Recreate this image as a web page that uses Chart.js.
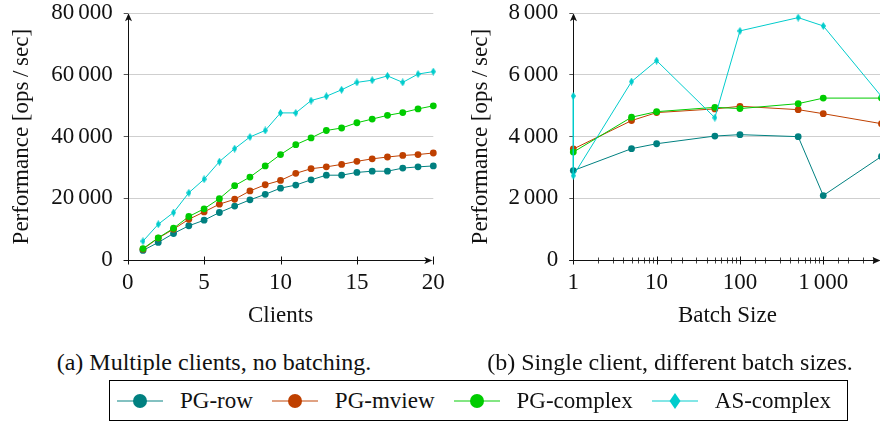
<!DOCTYPE html>
<html>
<head>
<meta charset="utf-8">
<script src="https://cdn.jsdelivr.net/npm/chart.js@4/dist/chart.umd.min.js"></script>
<style>
  html, body { margin: 0; padding: 0; background: #fff; }
  body { width: 880px; height: 423px; overflow: hidden; position: relative; font-family: 'Liberation Serif', serif; color: #111; }
  canvas { position: absolute; top: 0; }
  #clients { left: 0; }
  #batch { left: 440px; }
  .caption { position: absolute; top: 345px; font-size: 24px; line-height: 34px; text-align: center; white-space: nowrap; }
  #capA { left: 14px; width: 400px; }
  #capB { left: 470px; width: 400px; }
  #legend { position: absolute; left: 109px; top: 380px; width: 739px; height: 41px; box-sizing: border-box;
            border: 1px solid #000; display: flex; align-items: center; padding-left: 7px; font-size: 23px; white-space: nowrap; }
  #legend .item { display: flex; align-items: center; margin-right: 19px; flex-shrink: 0; }
  #legend svg { margin-right: 17px; flex-shrink: 0; }
</style>
</head>
<body>
<canvas id="clients" width="460" height="340"></canvas>
<canvas id="batch" width="460" height="340"></canvas>
<div class="caption" id="capA">(a) Multiple clients, no batching.</div>
<div class="caption" id="capB">(b) Single client, different batch sizes.</div>
<div id="legend"></div>

<script>
// ---- data ----
const seriesNames = ['PG-row', 'PG-mview', 'PG-complex', 'AS-complex'];
const seriesColors = ['#008080', '#bf4000', '#00cc00', '#00cccc'];

// (a) clients, no batching
const clients = [1, 2, 3, 4, 5, 6, 7, 8, 9, 10, 11, 12, 13, 14, 15, 16, 17, 18, 19, 20];
const clientsPgRow = [3100, 5700, 8600, 11100, 12900, 15400, 17500, 19500, 21300, 23300, 24300, 26000, 27500, 27500, 28400, 28800, 28800, 29800, 30200, 30500];
const clientsPgMview = [3500, 7100, 10000, 13200, 15600, 18100, 19700, 22400, 24400, 25800, 28100, 29600, 30200, 31000, 32000, 32800, 33400, 33900, 34200, 34700];
const clientsPgComplex = [3700, 7200, 10300, 14100, 16600, 19900, 24100, 26900, 30500, 34200, 37400, 39600, 42000, 42800, 44500, 45700, 46900, 47800, 49000, 50000];
const clientsAsComplex = [6100, 11600, 15400, 21800, 26200, 31900, 36100, 39900, 42000, 47700, 47700, 51700, 53100, 55200, 57600, 58300, 59700, 57600, 60300, 61100];

// (b) single client, batch sizes
const batchSizes = [1, 5, 10, 50, 100, 500, 1000, 5000];
const batchPgRow = [2900, 3610, 3770, 4020, 4065, 4000, 2090, 3360];
const batchPgMview = [3600, 4520, 4780, 4900, 4985, 4875, 4745, 4420];
const batchPgComplex = [3500, 4630, 4810, 4950, 4910, 5070, 5250, 5250];
const batchSizesAs = [1, 1, 5, 10, 50, 100, 500, 1000, 5000];
const batchAsComplex = [5320, 2735, 5785, 6465, 4615, 7430, 7860, 7590, 5300];

const batchTickLabels = [1, 10, 100, 1000];

// ---- helpers ----
const FONT = { family: 'Liberation Serif', size: 23 };
const fmt = v => String(v).replace(/\B(?=(\d{3})+(?!\d))/g, '\u2006');
const pts = (xs, ys) => xs.map((x, i) => ({ x, y: ys[i] }));

function diamond(w, h, color) {
  const c = document.createElement('canvas');
  c.width = w; c.height = h;
  const g = c.getContext('2d');
  g.fillStyle = color;
  g.beginPath();
  g.moveTo(w / 2, 0); g.lineTo(w, h / 2); g.lineTo(w / 2, h); g.lineTo(0, h / 2);
  g.closePath(); g.fill();
  return c;
}

function dataset(i, data) {
  const isAs = i === 3;
  return {
    label: seriesNames[i],
    data,
    borderColor: seriesColors[i],
    backgroundColor: seriesColors[i],
    borderWidth: 1,
    pointStyle: isAs ? diamond(5, 8, seriesColors[i]) : 'circle',
    pointRadius: isAs ? 3 : 3.4,
    pointBorderWidth: 0,
    tension: 0,
    clip: false,
    order: 4 - i
  };
}

// axis lines with arrow heads and ticks crossing the x axis
const axisPlugin = {
  id: 'axisArrows',
  beforeDatasetsDraw(chart) {
    const { ctx, chartArea: a, scales: { x } } = chart;
    const log = x.type === 'logarithmic';
    ctx.save();
    ctx.strokeStyle = '#111';
    ctx.fillStyle = '#111';
    ctx.lineWidth = 1;
    const yb = Math.round(a.bottom) + 0.5;
    const xl = Math.round(a.left) + 0.5;
    x.ticks.forEach(t => {
      const px = Math.round(x.getPixelForValue(t.value)) + 0.5;
      const major = !log || batchTickLabels.includes(t.value);
      const h = major ? 4 : 3;
      ctx.strokeStyle = major ? '#111' : '#444';
      ctx.beginPath(); ctx.moveTo(px, yb - h); ctx.lineTo(px, yb + h); ctx.stroke();
    });
    ctx.strokeStyle = '#111';
    // x axis
    const xr = a.right - 1;
    ctx.beginPath(); ctx.moveTo(a.left - 4, yb); ctx.lineTo(xr - 2, yb); ctx.stroke();
    ctx.beginPath();
    ctx.moveTo(xr, yb); ctx.lineTo(xr - 8, yb - 3.5); ctx.lineTo(xr - 6, yb); ctx.lineTo(xr - 8, yb + 3.5);
    ctx.closePath(); ctx.fill();
    // y axis
    const yt = a.top;
    ctx.beginPath(); ctx.moveTo(xl, a.bottom + 4); ctx.lineTo(xl, yt + 2); ctx.stroke();
    ctx.beginPath();
    ctx.moveTo(xl, yt); ctx.lineTo(xl - 3.5, yt + 8); ctx.lineTo(xl, yt + 6); ctx.lineTo(xl + 3.5, yt + 8);
    ctx.closePath(); ctx.fill();
    ctx.restore();
  }
};

function makeOptions(cfg) {
  return {
    responsive: false,
    animation: false,
    devicePixelRatio: 1,
    layout: { padding: { top: 13.3, right: cfg.padRight, bottom: 0, left: 0 } },
    plugins: { legend: { display: false }, tooltip: { enabled: false } },
    scales: {
      x: cfg.x,
      y: {
        type: 'linear',
        min: 0,
        max: cfg.yMax,
        border: { display: false },
        grid: { color: '#cfcfcf', lineWidth: 1, drawTicks: true, tickLength: 4, tickColor: '#555' },
        ticks: { stepSize: cfg.yStep, color: '#111', font: FONT, padding: 11, callback: v => fmt(v) },
        title: { display: true, text: 'Performance [ops\u2009/\u2009sec]', color: '#111', font: FONT, padding: { top: cfg.yTitlePad } },
        afterFit: s => { s.width = cfg.yWidth; s.paddingTop = 0; s.paddingBottom = 0; }
      }
    }
  };
}

function xAxis(extra) {
  return Object.assign({
    border: { display: false },
    grid: { display: false, drawTicks: false },
    afterFit: s => { s.height = 80; s.paddingLeft = 0; s.paddingRight = 0; }
  }, extra);
}

// ---- chart (a) ----
new Chart(document.getElementById('clients'), {
  type: 'line',
  data: {
    datasets: [
      dataset(0, pts(clients, clientsPgRow)),
      dataset(1, pts(clients, clientsPgMview)),
      dataset(2, pts(clients, clientsPgComplex)),
      dataset(3, pts(clients, clientsAsComplex))
    ]
  },
  options: makeOptions({
    padRight: 26.7,
    yMax: 80000,
    yStep: 20000,
    yWidth: 127.7,
    yTitlePad: 8,
    x: xAxis({
      type: 'linear',
      min: 0,
      max: 20,
      ticks: { stepSize: 5, color: '#111', font: FONT, padding: 9, maxRotation: 0, autoSkip: false },
      title: { display: true, text: 'Clients', color: '#111', font: FONT, padding: { bottom: 10 } }
    })
  }),
  plugins: [axisPlugin]
});

// ---- chart (b) ----
new Chart(document.getElementById('batch'), {
  type: 'line',
  data: {
    datasets: [
      dataset(0, pts(batchSizes, batchPgRow)),
      dataset(1, pts(batchSizes, batchPgMview)),
      dataset(2, pts(batchSizes, batchPgComplex)),
      dataset(3, pts(batchSizesAs, batchAsComplex))
    ]
  },
  options: makeOptions({
    padRight: 18.5,
    yMax: 8000,
    yStep: 2000,
    yWidth: 133.3,
    yTitlePad: 27,
    x: xAxis({
      type: 'logarithmic',
      min: 1,
      max: 5000,
      ticks: {
        color: '#111', font: FONT, padding: 9, maxRotation: 0, autoSkip: false,
        callback: v => batchTickLabels.includes(v) ? fmt(v) : ''
      },
      title: { display: true, text: 'Batch Size', color: '#111', font: FONT, padding: { bottom: 10 } }
    })
  }),
  plugins: [axisPlugin]
});

// ---- legend ----
const legend = document.getElementById('legend');
seriesNames.forEach((name, i) => {
  const c = seriesColors[i];
  const marker = i === 3
    ? `<polygon points="23,1 28.5,9 23,17 17.5,9" fill="${c}"/>`
    : `<circle cx="23" cy="9" r="7" fill="${c}"/>`;
  const item = document.createElement('div');
  item.className = 'item';
  item.innerHTML = `<svg width="46" height="18"><line x1="0" y1="9" x2="46" y2="9" stroke="${c}" stroke-opacity="0.65" stroke-width="1.5"/>${marker}</svg><span>${name}</span>`;
  legend.appendChild(item);
});
</script>
</body>
</html>
